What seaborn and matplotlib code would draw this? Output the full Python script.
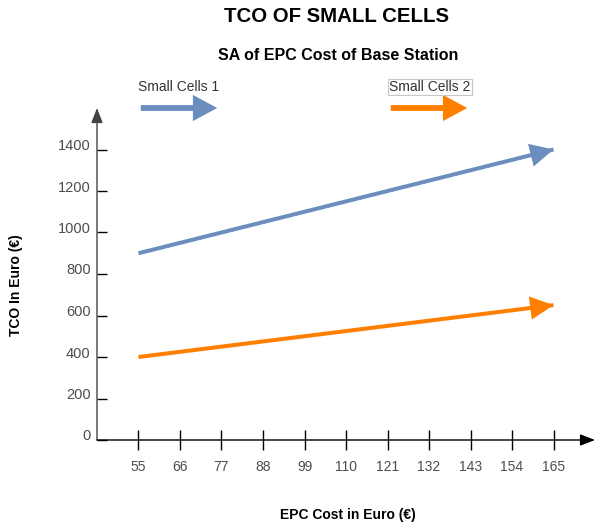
import matplotlib
matplotlib.use("Agg")
import matplotlib.pyplot as plt
import matplotlib.transforms as mtransforms
from matplotlib.patches import FancyArrowPatch
import seaborn as sns
import pandas as pd

# EPC cost of the base station (€) and resulting TCO (€)
epc_cost = [55, 165]
tco_small_cells_1 = [900, 1400]
tco_small_cells_2 = [400, 650]

x_ticks = [55, 66, 77, 88, 99, 110, 121, 132, 143, 154, 165]
y_ticks = [0, 200, 400, 600, 800, 1000, 1200, 1400]

series_names = ["Small Cells 1", "Small Cells 2"]
series_colors = ["#6c8ebf", "#ff8000"]

sns.set_style("white")
plt.rcParams["font.family"] = ["Liberation Sans", "DejaVu Sans"]

W, H = 594, 526
fig = plt.figure(figsize=(W / 100, H / 100), dpi=100)


def px(x, y):
    """Pixel position (from top-left) to figure fraction."""
    return x / W, 1 - y / H


ax = fig.add_axes([97 / W, (H - 440) / H, 498 / W, 332 / H])
ax.set_xlim(44, 176)
ax.set_ylim(0, 1600)
for s in ax.spines.values():
    s.set_visible(False)

df = pd.DataFrame({
    "EPC": epc_cost * 2,
    "TCO": tco_small_cells_1 + tco_small_cells_2,
    "Series": [series_names[0]] * len(epc_cost) + [series_names[1]] * len(epc_cost),
})
sns.lineplot(data=df, x="EPC", y="TCO", hue="Series", palette=series_colors,
             linewidth=2.9, legend=False, ax=ax, solid_capstyle="butt")

# arrowheads at the end of each series
for vals, col in zip([tco_small_cells_1, tco_small_cells_2], series_colors):
    ax.add_patch(FancyArrowPatch(
        (epc_cost[-2], vals[-2]), (epc_cost[-1], vals[-1]),
        arrowstyle="simple,head_length=1.2,head_width=1.2,tail_width=0.01",
        mutation_scale=14, color=col, lw=0, shrinkA=0, shrinkB=0, zorder=3))

# axes drawn as arrows
ax.annotate("", xy=(0, 1), xytext=(0, 0), xycoords="axes fraction",
            arrowprops=dict(arrowstyle="-|>,head_length=0.9,head_width=0.35",
                            color="#444444", lw=1, shrinkA=0, shrinkB=0,
                            mutation_scale=10), annotation_clip=False)
ax.annotate("", xy=(1, 0), xytext=(0, 0), xycoords="axes fraction",
            arrowprops=dict(arrowstyle="-|>,head_length=0.9,head_width=0.35",
                            color="black", lw=1, shrinkA=0, shrinkB=0,
                            mutation_scale=10), annotation_clip=False)

ax.set_xticks(x_ticks)
ax.set_yticks(y_ticks)
ax.set_xticklabels([str(v) for v in x_ticks])
ax.set_yticklabels([str(v) for v in y_ticks])
ax.tick_params(axis="x", bottom=True, direction="inout", length=14.4, width=1,
               color="black", pad=7, labelsize=10, labelcolor="#4d4d4d")
ax.tick_params(axis="y", left=True, direction="in", length=7.2, width=1,
               color="black", pad=4.5, labelsize=10.5, labelcolor="#4d4d4d")
shift = mtransforms.ScaledTranslation(0, 5 / 100, fig.dpi_scale_trans)
for lab in ax.get_yticklabels():
    lab.set_transform(lab.get_transform() + shift)
ax.set_xlabel("")
ax.set_ylabel("")

# titles and axis labels
fig.text(*px(336, 16), "TCO OF SMALL CELLS", ha="center", va="center",
         fontsize=14.7, fontweight="bold", color="black")
fig.text(*px(338, 55), "SA of EPC Cost of Base Station", ha="center", va="center",
         fontsize=11.5, fontweight="bold", color="black")
fig.text(*px(348, 515), "EPC Cost in Euro (€)", ha="center", va="center",
         fontsize=10, fontweight="bold", color="black")
fig.text(*px(16, 285), "TCO In Euro (€)", ha="center", va="center", rotation=90,
         fontsize=10, fontweight="bold", color="black")

# legend entries
fig.text(*px(138, 87), series_names[0], ha="left", va="center",
         fontsize=10, color="#333333")
fig.text(*px(389, 87), series_names[1], ha="left", va="center",
         fontsize=10, color="#333333",
         bbox=dict(boxstyle="square,pad=0.1", fc="white", ec="#c8c8c8", lw=0.8))
for x0, col in zip([138, 388], series_colors):
    fig.add_artist(FancyArrowPatch(
        px(x0, 108), px(x0 + 82, 108), transform=fig.transFigure,
        arrowstyle="simple,head_length=1.25,head_width=1.35,tail_width=0.3",
        mutation_scale=14, color=col, lw=0))

fig.savefig("out.png", dpi=100)
